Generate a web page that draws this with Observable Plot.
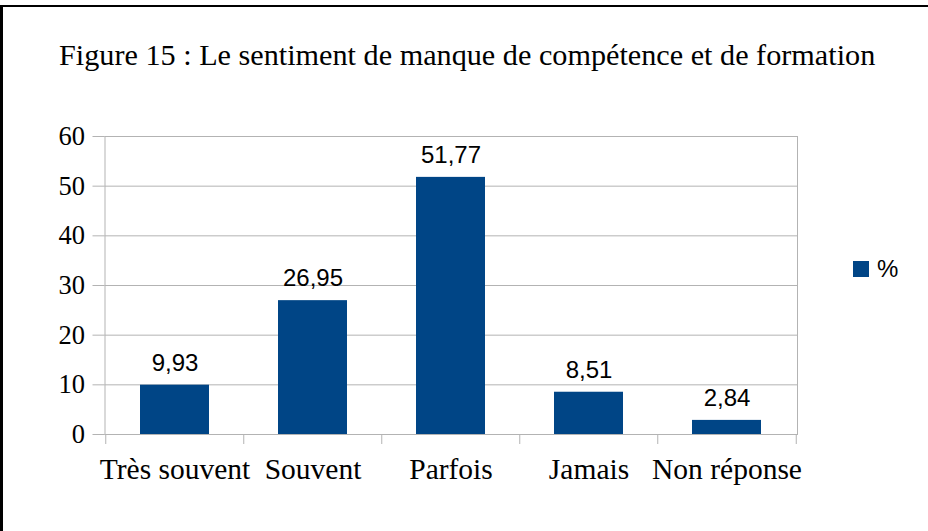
<!DOCTYPE html>
<html>
<head>
<meta charset="utf-8">
<script src="https://cdn.jsdelivr.net/npm/d3@7"></script>
<script src="https://cdn.jsdelivr.net/npm/@observablehq/plot@0.6"></script>
<style>
  html, body { margin: 0; padding: 0; background: #fff; }
  #wrap { position: relative; width: 928px; height: 531px; overflow: hidden; background: #fff; }
  #frame { position: absolute; left: 0; top: 5px; width: 940px; height: 540px; border-top: 2px solid #000; border-left: 3px solid #000; box-sizing: border-box; }
  #title { position: absolute; left: 59px; top: 42px; font-family: "Liberation Serif", "Times New Roman", serif; font-size: 28.5px; line-height: 28px; color: #000; white-space: nowrap; transform-origin: 0 50%; transform: scaleX(1.06); }
  #chart { position: absolute; left: 0; top: 0; }
  #legend { position: absolute; left: 853px; top: 255px; display: flex; align-items: center; font-family: "Liberation Sans", Arial, sans-serif; font-size: 24px; color: #000; }
  #legend .sw { width: 16px; height: 16px; background: #004586; margin-right: 8px; }
</style>
</head>
<body>
<div id="wrap">
  <div id="chart"></div>
  <div id="frame"></div>
  <div id="title">Figure 15 : Le sentiment de manque de compétence et de formation</div>
  <div id="legend"><div class="sw"></div><span>%</span></div>
</div>
<script>
const categories = ["Très souvent", "Souvent", "Parfois", "Jamais", "Non réponse"];
const values = [9.93, 26.95, 51.77, 8.51, 2.84];
const yTicks = [0, 10, 20, 30, 40, 50, 60];
const seriesName = "%";
const barColor = "#004586";

const data = categories.map((c, i) => ({category: c, value: values[i]}));
const fmt = v => v.toFixed(2).replace(".", ",");

const serif = "'Liberation Serif', 'Times New Roman', serif";
const sans = "'Liberation Sans', Arial, sans-serif";
const gray = "#b3b3b3";

const mL = 104.5, mR = 131;
const step = (928 - mL - mR) / 5;

const chart = Plot.plot({
  width: 928,
  height: 531,
  marginLeft: mL,
  marginRight: mR,
  marginTop: 136,
  marginBottom: 97,
  style: {background: "transparent", color: "#000"},
  x: {domain: categories, paddingInner: 0.5, paddingOuter: 0.25, label: null},
  y: {domain: [0, 60], ticks: yTicks, label: null},
  marks: [
    Plot.gridY(yTicks, {stroke: gray, strokeOpacity: 1}),
    Plot.frame({stroke: gray}),
    Plot.barY(data, {x: "category", y: "value", fill: barColor}),
    Plot.axisY(yTicks, {tickSize: 12, tickPadding: 8, stroke: gray, fill: "#000", fontFamily: serif, fontSize: 26.5, label: null}),
    Plot.axisX(categories, {tickSize: 10, text: null, stroke: gray, dx: -step / 2, label: null}),
    Plot.axisX(categories.slice(-1), {tickSize: 10, text: null, stroke: gray, dx: step / 2, label: null}),
    Plot.axisX(categories, {tickSize: 0, tickPadding: 24, fill: "#000", fontFamily: serif, fontSize: 29.5, label: null}),
    Plot.text(data, {x: "category", y: "value", text: d => fmt(d.value), dy: -22, fontFamily: sans, fontSize: 24, fill: "#000"})
  ]
});
document.getElementById("chart").appendChild(chart);
</script>
</body>
</html>
